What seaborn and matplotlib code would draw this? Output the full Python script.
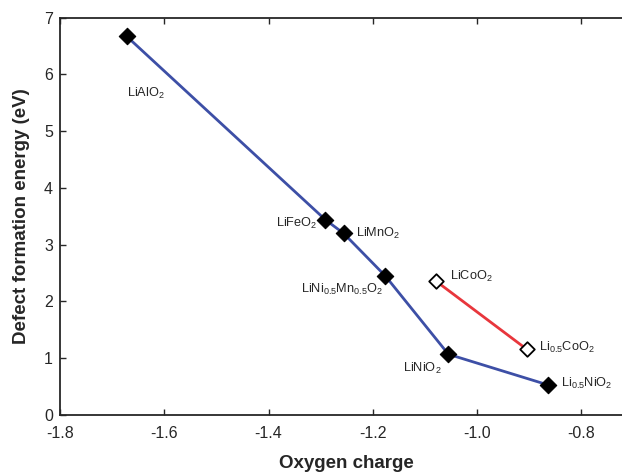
import matplotlib
matplotlib.use("Agg")
import matplotlib.pyplot as plt
import seaborn as sns

# Oxygen charge vs. defect formation energy
ni_labels = [r"LiAlO$_2$", r"LiFeO$_2$", r"LiMnO$_2$",
             r"LiNi$_{0.5}$Mn$_{0.5}$O$_2$", r"LiNiO$_2$", r"Li$_{0.5}$NiO$_2$"]
ni_charge = [-1.672, -1.291, -1.256, -1.176, -1.055, -0.864]
ni_energy = [6.67, 3.44, 3.20, 2.45, 1.07, 0.53]

co_labels = [r"LiCoO$_2$", r"Li$_{0.5}$CoO$_2$"]
co_charge = [-1.079, -0.905]
co_energy = [2.36, 1.16]

sns.set_style("ticks")
plt.rcParams["font.family"] = ["Liberation Sans", "DejaVu Sans"]
plt.rcParams["mathtext.fontset"] = "custom"
plt.rcParams["mathtext.rm"] = "Liberation Sans"
plt.rcParams["mathtext.it"] = "Liberation Sans:italic"
plt.rcParams["mathtext.bf"] = "Liberation Sans:bold"

fig = plt.figure(figsize=(6.22, 4.73), dpi=100)
ax = fig.add_axes([0.0965, 0.1226, 0.922, 0.8400])

sns.lineplot(x=ni_charge, y=ni_energy, sort=False, color="#3d4fa6", lw=2, ax=ax)
sns.lineplot(x=co_charge, y=co_energy, sort=False, color="#e8363c", lw=2, ax=ax)
sns.scatterplot(x=ni_charge, y=ni_energy, marker="D", s=70, color="black",
                edgecolor="black", linewidth=0.8, zorder=5, ax=ax)
sns.scatterplot(x=co_charge, y=co_energy, marker="D", s=55, color="white",
                edgecolor="black", linewidth=1.3, zorder=5, ax=ax)

# label offsets in points
offsets = {
    r"LiAlO$_2$": (0, -41, "left"),
    r"LiFeO$_2$": (-6, -3, "right"),
    r"LiMnO$_2$": (9, 0, "left"),
    r"LiNi$_{0.5}$Mn$_{0.5}$O$_2$": (-2, -10, "right"),
    r"LiNiO$_2$": (-5, -10, "right"),
    r"Li$_{0.5}$NiO$_2$": (9, 1, "left"),
    r"LiCoO$_2$": (10, 3, "left"),
    r"Li$_{0.5}$CoO$_2$": (9, 1, "left"),
}
for lab, xv, yv in zip(ni_labels + co_labels, ni_charge + co_charge, ni_energy + co_energy):
    dx, dy, ha = offsets[lab]
    ax.annotate(lab, (xv, yv), xytext=(dx, dy), textcoords="offset points",
                ha=ha, va="center", fontsize=9.2)

ax.set_xlim(-1.8, -0.7)
ax.set_ylim(0, 7)
ax.set_xticks([-1.8, -1.6, -1.4, -1.2, -1.0, -0.8])
ax.set_xticklabels(["-1.8", "-1.6", "-1.4", "-1.2", "-1.0", "-0.8"])
ax.set_yticks(range(0, 8))
ax.tick_params(direction="in", length=4, width=1, labelsize=11.5,
               top=True, right=True, pad=5)
ax.tick_params(axis="x", pad=8)
for sp in ax.spines.values():
    sp.set_linewidth(1.3)
ax.set_xlabel("Oxygen charge", fontsize=13.5, fontweight="bold", labelpad=10)
ax.set_ylabel("Defect formation energy (eV)", fontsize=13.5, fontweight="bold", labelpad=10)

fig.savefig("out.png", dpi=100)
